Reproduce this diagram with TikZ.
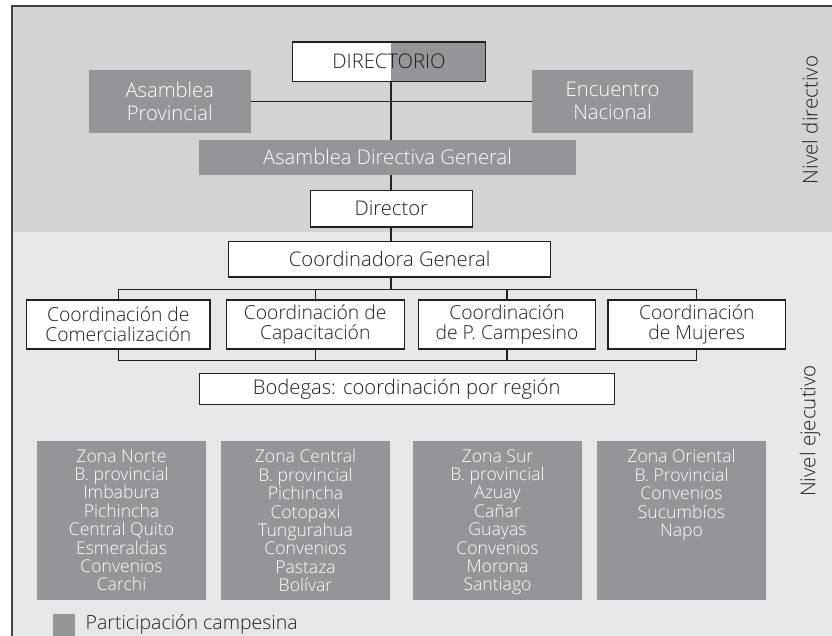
\documentclass[tikz,border=0pt]{standalone}
\usepackage{fontspec}
\setmainfont{Open Sans Light}
\definecolor{topg}{HTML}{D1D3D4}
\definecolor{lowg}{HTML}{E6E7E8}
\definecolor{darkg}{HTML}{939598}
\definecolor{linec}{HTML}{231F20}
\begin{document}
\begin{tikzpicture}[x=1pt,y=-1pt,
  wbox/.style={draw=linec, line width=1.1pt, fill=white, inner sep=0pt, align=center, text=linec},
  gbox/.style={fill=darkg, text=white, inner sep=0pt, align=center},
  big/.style={font=\fontsize{20.2}{23}\selectfont},
  mid/.style={font=\fontsize{19.3}{20}\selectfont},
  small/.style={font=\fontsize{17.6}{18.4}\selectfont},
  zone/.style={fill=darkg, inner sep=0pt, minimum width=169pt, minimum height=158.7pt},
  ztext/.style={text=white, inner sep=0pt, align=center, anchor=north, small},
  link/.style={draw=linec, line width=1.1pt},
  side/.style={rotate=90, text=linec, inner sep=0pt, font=\fontsize{20.5}{24}\selectfont}]
\useasboundingbox (0,0) rectangle (832,636);
\fill[topg] (12,6) rectangle (832,232);
\fill[lowg] (12,232) rectangle (832,636);
\draw[linec!85, line width=1.3pt] (12,636) -- (12,6) -- (832,6);
\coordinate (ax) at (391,0);
\coordinate (bus) at (0,289.3);
\coordinate (bbus) at (0,360.7);
% directive level
\node[wbox, big, minimum width=192.6pt, minimum height=39.3pt,
  path picture={\fill[darkg] ([xshift=2pt]path picture bounding box.north) rectangle (path picture bounding box.south east);}]
  (dir) at (389,61.7) {DIRECTORIO};
\node[gbox, big, minimum width=161.7pt, minimum height=62.7pt] (ap) at (169.8,101.3) {Asamblea\\Provincial};
\node[gbox, big, minimum width=161pt, minimum height=63pt] (en) at (612.5,101.3) {Encuentro\\Nacional};
\node[gbox, big, minimum width=377pt, minimum height=34.7pt] (adg) at (387.5,157.3) {Asamblea Directiva General};
\node[wbox, big, minimum width=162pt, minimum height=36.7pt] (director) at (391.3,208.7) {Director};
% executive level
\node[wbox, big, minimum width=322pt, minimum height=35.3pt] (cg) at (389.7,259.3) {Coordinadora General};
\node[wbox, mid, minimum width=183.3pt, minimum height=49pt] (c1) at (118.3,324.5) {Coordinación de\\Comercialización};
\node[wbox, mid, minimum width=177.7pt, minimum height=49pt] (c2) at (315.2,324.5) {Coordinación de\\Capacitación};
\node[wbox, mid, minimum width=177.4pt, minimum height=49pt] (c3) at (507,324.5) {Coordinación\\de P. Campesino};
\node[wbox, mid, minimum width=177.7pt, minimum height=49pt] (c4) at (696.8,324.5) {Coordinación\\de Mujeres};
\node[wbox, big, minimum width=414.7pt, minimum height=30.7pt] (bod) at (406.7,388.7) {Bodegas: coordinación por región};
% connectors
\draw[link] (dir.south -| ax) -- (adg.north -| ax);
\draw[link] (ap.east) -- (en.west);
\draw[link] (adg.south -| ax) -- (director.north -| ax);
\draw[link] (director.south -| ax) -- (cg.north -| ax);
\draw[link] (cg.south -| ax) -- (ax |- bus);
\draw[link] (c1.north) -- (c1.north |- bus) -- (c4.north |- bus) -- (c4.north);
\draw[link] (c2.north) -- (c2.north |- bus);
\draw[link] (c3.north) -- (c3.north |- bus);
\draw[link] (c1.south) -- (c1.south |- bbus) -- (c4.south |- bbus) -- (c4.south);
\draw[link] (c2.south) -- (c2.south |- bbus);
\draw[link] (c3.south) -- (c3.south |- bbus);
% zones
\node[zone] (z1) at (121.5,520.3) {};
\node[zone] (z2) at (305.5,520.3) {};
\node[zone] (z3) at (497.5,520.3) {};
\node[zone] (z4) at (681.5,520.3) {};
\node[ztext] (t1) at ([yshift=-8.5pt]z1.north) {Zona Norte\\B. provincial\\Imbabura\\Pichincha\\Central Quito\\Esmeraldas\\Convenios\\Carchi};
\node[ztext] (t2) at ([yshift=-8.5pt]z2.north) {Zona Central\\B. provincial\\Pichincha\\Cotopaxi\\Tungurahua\\Convenios\\Pastaza\\Bolívar};
\node[ztext] (t3) at ([yshift=-8.5pt]z3.north) {Zona Sur\\B. provincial\\Azuay\\Cañar\\Guayas\\Convenios\\Morona\\Santiago};
\node[ztext] (t4) at ([yshift=-8.5pt]z4.north) {Zona Oriental\\B. Provincial\\Convenios\\Sucumbíos\\Napo};
% legend
\node[fill=darkg, inner sep=0pt, minimum width=21.5pt, minimum height=22pt] (leg) at (64,625) {};
\node[anchor=west, inner sep=0pt, text=linec, font=\fontsize{19.5}{22}\selectfont] (legt) at (85.5,624) {Participación campesina};
% side labels
\node[side] (nd) at (810,120) {Nivel directivo};
\node[side] (ne) at (810,431) {Nivel ejecutivo};
\end{tikzpicture}
\end{document}
